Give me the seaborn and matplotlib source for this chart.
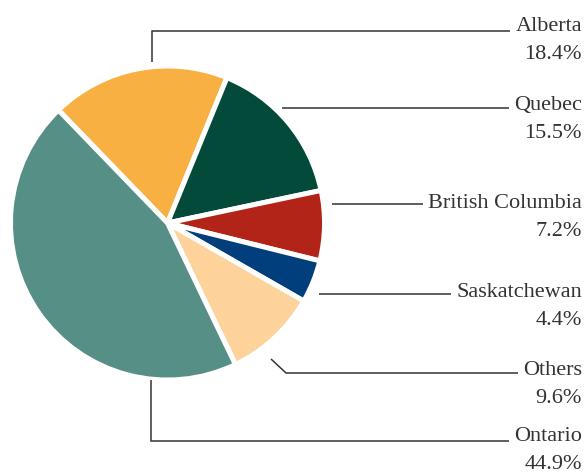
import matplotlib
matplotlib.use("Agg")
import matplotlib.pyplot as plt
import seaborn as sns

# Share of total by province
provinces = ["Alberta", "Quebec", "British Columbia", "Saskatchewan", "Others", "Ontario"]
shares = [18.4, 15.5, 7.2, 4.4, 9.6, 44.9]
colors = ["#F9B042", "#034A3A", "#B22418", "#013E7C", "#FDD39B", "#558F86"]

W, H = 587, 473

sns.set_theme(style="white")
plt.rcParams["font.family"] = ["Liberation Serif", "DejaVu Serif"]

fig = plt.figure(figsize=(W / 100, H / 100), dpi=100)
ax = fig.add_axes([0, 0, 1, 1])


def py(y):
    # pixel row (from top) to axis y
    return H - y


ax.pie(
    shares,
    colors=colors,
    startangle=134,
    counterclock=False,
    center=(167.5, py(223)),
    radius=157,
    explode=[0.02] * len(shares),
    wedgeprops=dict(edgecolor="white", linewidth=3.6),
    frame=True,
)
ax.set_xlim(0, W)
ax.set_ylim(0, H)
ax.set_aspect("equal")
ax.axis("off")

# leader line paths (pixel coords) ending at each label's baseline row
leader_paths = [
    [(152, 62), (152, 31)],
    [(282, 108)],
    [(332, 204)],
    [(319, 294)],
    [(271, 359), (286, 373)],
    [(151, 380), (151, 441)],
]
name_baselines = [31, 110, 208, 297, 375, 441]
text_x = 582
line_color = "#333333"
text_color = "#333333"

fig.canvas.draw()
renderer = fig.canvas.get_renderer()
inv = ax.transData.inverted()

for name, val, path, yb in zip(provinces, shares, leader_paths, name_baselines):
    t = ax.text(text_x, py(yb), name, ha="right", va="baseline",
                fontsize=16, color=text_color)
    ax.text(text_x, py(yb + 28), f"{val:.1f}%", ha="right", va="baseline",
            fontsize=16, color=text_color)
    bb = t.get_window_extent(renderer=renderer)
    x_end = inv.transform((bb.x0, 0))[0] - 5
    y_line = path[-1][1]
    pts = list(path) + [(x_end, y_line)]
    ax.plot([p[0] for p in pts], [py(p[1]) for p in pts],
            color=line_color, lw=1.1, solid_capstyle="butt",
            solid_joinstyle="miter")

fig.savefig("out.png", dpi=100)
